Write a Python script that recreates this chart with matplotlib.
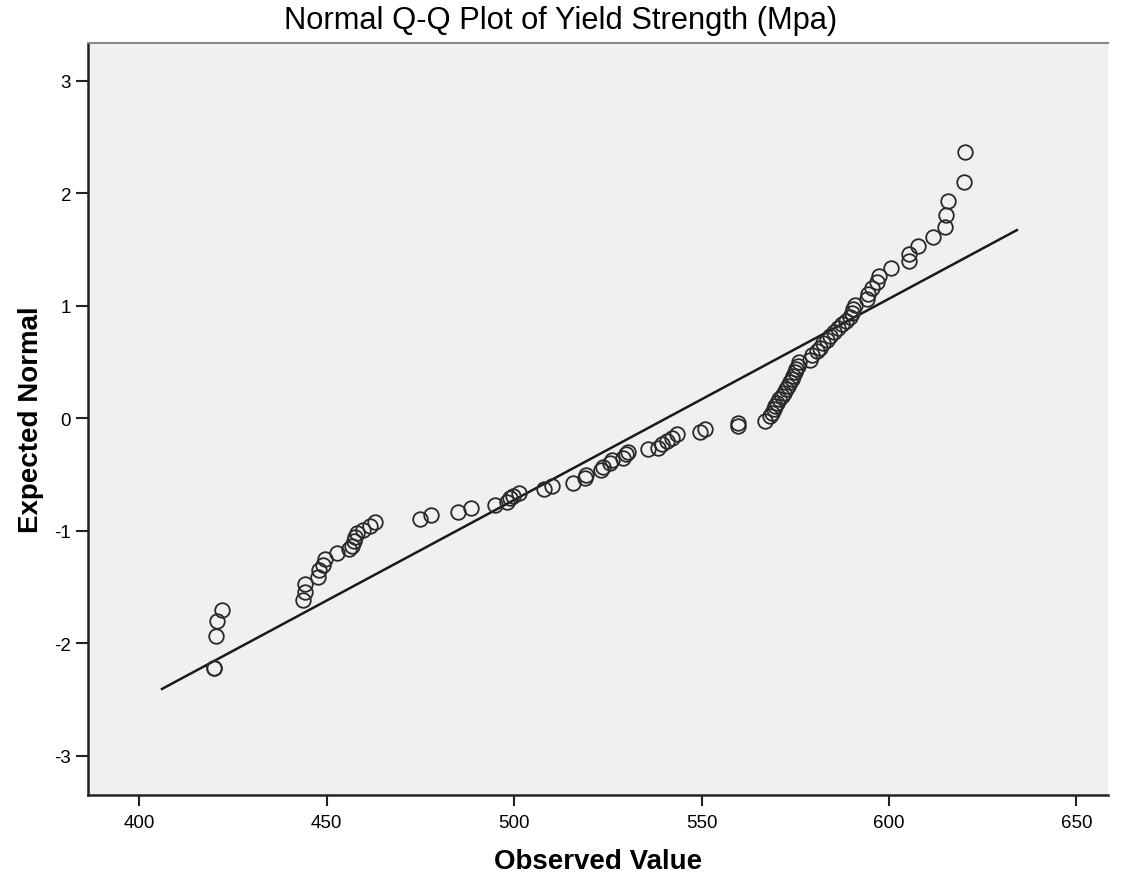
import numpy as np
import matplotlib.pyplot as plt

# observed yield strength values and their expected normal scores
observed = [420.0, 420.0, 420.5, 420.8, 422.0, 443.8, 444.2, 444.3, 447.8, 447.9,
            449.0, 449.7, 452.7, 456.0, 456.8, 457.3, 457.6, 458.0, 459.8, 461.6,
            463.0, 475.0, 477.8, 485.0, 488.5, 494.9, 498.0, 499.0, 499.8, 501.2,
            508.0, 510.0, 515.8, 519.0, 519.3, 523.3, 523.8, 525.6, 526.2, 529.1,
            529.8, 530.5, 535.8, 538.5, 539.4, 540.7, 542.0, 543.4, 549.6, 550.9,
            559.8, 559.8, 566.8, 568.3, 568.8, 569.3, 569.7, 570.2, 570.7, 571.5,
            572.0, 572.6, 573.1, 573.6, 574.0, 574.5, 574.9, 575.3, 575.7, 576.0,
            578.9, 579.4, 580.8, 581.6, 582.5, 583.4, 584.3, 585.2, 586.3, 587.4,
            588.5, 589.6, 590.0, 590.5, 590.9, 594.0, 594.5, 595.4, 596.7, 597.4,
            600.5, 605.2, 605.2, 607.8, 611.8, 614.9, 615.2, 615.8, 620.0, 620.3]
expected = [-2.22, -2.22, -1.93, -1.80, -1.70, -1.61, -1.54, -1.47, -1.41, -1.35,
            -1.30, -1.25, -1.20, -1.16, -1.13, -1.09, -1.05, -1.02, -0.99, -0.96,
            -0.92, -0.89, -0.86, -0.83, -0.80, -0.77, -0.74, -0.71, -0.69, -0.66,
            -0.63, -0.60, -0.57, -0.53, -0.50, -0.46, -0.43, -0.40, -0.37, -0.35,
            -0.32, -0.30, -0.27, -0.26, -0.23, -0.20, -0.17, -0.14, -0.12, -0.09,
            -0.07, -0.04, -0.02, 0.02, 0.05, 0.08, 0.11, 0.14, 0.17, 0.20,
            0.23, 0.26, 0.29, 0.32, 0.35, 0.38, 0.41, 0.44, 0.47, 0.50,
            0.52, 0.56, 0.60, 0.63, 0.67, 0.70, 0.73, 0.77, 0.80, 0.84,
            0.87, 0.90, 0.94, 0.97, 1.01, 1.06, 1.11, 1.16, 1.21, 1.27,
            1.34, 1.40, 1.46, 1.53, 1.61, 1.70, 1.81, 1.93, 2.10, 2.37]

# reference line for a normal with this mean / sd
mean_ys = 540.5
sd_ys = 55.9
line_x = [406.1, 634.1]

x_ticks = [400, 450, 500, 550, 600, 650]
y_ticks = [-3, -2, -1, 0, 1, 2, 3]

plt.rcParams['font.family'] = ['Liberation Sans', 'DejaVu Sans']
plt.rcParams['axes.unicode_minus'] = False

fig = plt.figure(figsize=(11.22, 8.79), dpi=100)
ax = fig.add_axes([0.0782, 0.0948, 0.9093, 0.8552])
ax.set_facecolor('#f0f0f0')

lx = np.array(line_x)
ax.plot(lx, (lx - mean_ys) / sd_ys, color='#1a1a1a', lw=1.8, zorder=2)
ax.plot(observed, expected, 'o', ms=10.5, mfc='none', mec='#2a2a2a', mew=1.3, zorder=3)

ax.set_xlim(386.3, 658.4)
ax.set_ylim(-3.344, 3.338)
ax.set_xticks(x_ticks)
ax.set_yticks(y_ticks)
ax.tick_params(axis='both', direction='out', labelsize=13.5, width=1.5, color='#222222')
ax.tick_params(axis='x', length=8, pad=6)
ax.tick_params(axis='y', length=9, pad=3)

for side in ['left', 'bottom']:
    ax.spines[side].set_linewidth(1.8)
    ax.spines[side].set_color('#222222')
ax.spines['top'].set_color('#8a8a8a')
ax.spines['top'].set_linewidth(1.5)
ax.spines['right'].set_visible(False)

ax.set_xlabel('Observed Value', fontsize=20, fontweight='bold', labelpad=12)
ax.set_ylabel('Expected Normal', fontsize=20, fontweight='bold', labelpad=7)
fig.text(0.5, 0.976, 'Normal Q-Q Plot of Yield Strength (Mpa)', ha='center', va='center', fontsize=22.2)

fig.savefig('out.png', dpi=100)
